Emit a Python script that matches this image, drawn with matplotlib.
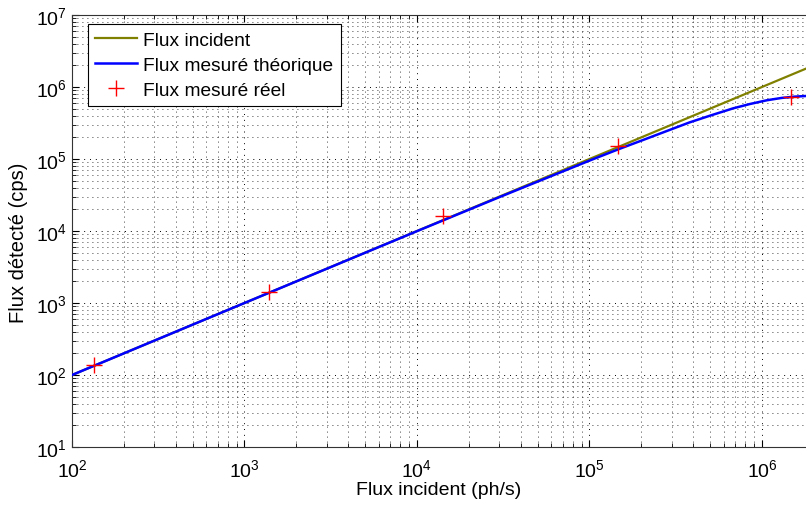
import matplotlib
matplotlib.use("Agg")
import matplotlib.pyplot as plt
import numpy as np

plt.rcParams['font.family'] = ['Liberation Sans', 'DejaVu Sans']

# Incident flux line (y = x)
incident_x = [1e2, 1.8e6]
incident_y = [1e2, 1.8e6]

theo_x = [1e2, 1e3, 1e4, 3e4, 5e4, 1e5, 1.5e5, 2e5, 3e5, 3.8e5, 5e5, 6.8e5, 8.5e5, 1.07e6, 1.3e6, 1.55e6, 1.8e6]
theo_y = [1e2, 1e3, 9.95e3, 2.95e4, 4.85e4, 9.5e4, 1.39e5, 1.8e5, 2.6e5, 3.22e5, 4.0e5, 5.05e5, 5.8e5, 6.55e5, 7.05e5, 7.35e5, 7.5e5]

# Measured points
meas_x = [1.35e2, 1.38e3, 1.42e4, 1.46e5, 1.47e6]
meas_y = [1.38e2, 1.41e3, 1.6e4, 1.51e5, 7.2e5]

xlim = (1e2, 1.8e6)
ylim = (1e1, 1e7)

fig = plt.figure(figsize=(8.06, 5.10), dpi=100)
ax = fig.add_axes([72/806, 1-448/510, 1-72/806, 432/510])

ax.plot(incident_x, incident_y, color='#808000', lw=1.6, label='Flux incident', zorder=3)
ax.plot(theo_x, theo_y, color='#0000ff', lw=1.8, label='Flux mesuré théorique', zorder=4)
ax.plot(meas_x, meas_y, linestyle='none', marker='+', color='#ff0000', ms=11, mew=1.0,
        label='Flux mesuré réel', zorder=5)

ax.set_xscale('log')
ax.set_yscale('log')
ax.set_xlim(*xlim)
ax.set_ylim(*ylim)

ax.grid(True, which='major', linestyle=(0, (1, 5)), color='black', lw=0.7)
ax.grid(True, which='minor', linestyle=(0, (1, 5)), color='black', lw=0.6)

ax.tick_params(which='both', direction='in', top=True, right=False, labelsize=14)
ax.tick_params(axis='x', which='major', pad=8)
ax.tick_params(which='major', length=5, width=0.8)
ax.tick_params(which='minor', length=3, width=0.6)
ax.spines['right'].set_visible(False)
for s in ['left', 'bottom', 'top']:
    ax.spines[s].set_linewidth(0.8)
    ax.spines[s].set_color('#333333')

ax.set_xlabel('Flux incident (ph/s)', fontsize=14, labelpad=1)
ax.set_ylabel('Flux détecté (cps)', fontsize=14.5)
ax.yaxis.set_label_coords((28-72)/734, (448-243)/432)

leg = ax.legend(loc='upper left', bbox_to_anchor=(88/806, 1-25/510), bbox_transform=fig.transFigure,
                borderaxespad=0, fontsize=13.8, frameon=True, fancybox=False, edgecolor='black',
                framealpha=1, handlelength=2.2, handletextpad=0.3, labelspacing=0.4,
                borderpad=0.38)
leg.get_frame().set_linewidth(0.8)

fig.savefig('out.png', dpi=100)
